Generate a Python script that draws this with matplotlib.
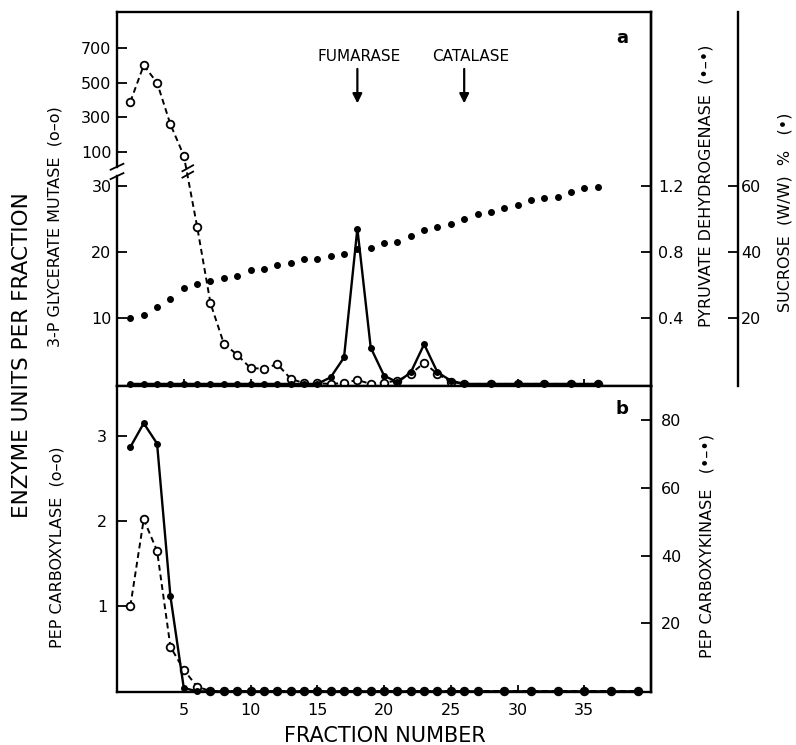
import matplotlib
matplotlib.use("Agg")
import matplotlib.pyplot as plt
import numpy as np

# ---- data ----
frac_top = list(range(1, 27)) + [28, 30, 32, 34, 36]
pgm = [390, 600, 500, 260, 80, 23.8, 12.2, 6.1, 4.4, 2.4, 2.3, 3.0, 0.8, 0.1, 0.1,
       0, 0.15, 0.6, 0, 0.2, 0.5, 1.5, 3.2, 1.5, 0.3, 0, 0, 0, 0, 0, 0]
pdh = [0] * 15 + [0.04, 0.16, 0.94, 0.22, 0.05, 0.01, 0.07, 0.24, 0.07, 0.02,
                  0, 0, 0, 0, 0, 0]
frac_suc = list(range(1, 37))
sucrose = [20.1, 20.8, 23.3, 25.8, 29.0, 30.3, 31.2, 32.2, 32.7, 34.4, 34.7, 36.0,
           36.6, 37.9, 37.9, 38.8, 39.4, 40.9, 41.2, 42.7, 43.0, 44.8, 46.7, 47.6,
           48.5, 50.0, 51.5, 52.1, 53.3, 54.2, 55.8, 56.4, 56.7, 58.2, 59.4, 59.7]

frac_bot = list(range(1, 28)) + [29, 31, 33, 35, 37, 39]
pepc = [1.0, 2.02, 1.65, 0.52, 0.25, 0.05] + [0] * 27
pepck = [72, 79, 73, 28, 1] + [0] * 28

xticks = [5, 10, 15, 20, 25, 30, 35]
pgm_ticks = [10, 20, 30, 100, 300, 500, 700]

# broken left axis of panel a: linear below BREAK, compressed above
BREAK = 31.0
UP_BASE = 32.45
UP_SLOPE = 0.02625


def fwd(v):
    v = np.asarray(v, dtype=float)
    return np.where(v <= BREAK, v, UP_BASE + UP_SLOPE * v)


def inv(u):
    u = np.asarray(u, dtype=float)
    hi = (u - UP_BASE) / UP_SLOPE
    return np.where(u <= BREAK, u, np.where(hi < BREAK, BREAK, hi))


plt.rcParams['font.family'] = ['DejaVu Sans']
fig = plt.figure(figsize=(7.96, 7.45), dpi=100)

L, R = 0.147, 0.818
ax_a = fig.add_axes([L, 0.482, R - L, 0.984 - 0.482])
ax_b = fig.add_axes([L, 0.0711, R - L, 0.482 - 0.0711])

TS = 11.5  # tick label size
open_kw = dict(marker='o', ms=5.5, mfc='white', mec='black', mew=1.3,
               color='black', clip_on=False)
dash = (0, (3, 2))

# ---------- panel a ----------
ax_a.set_yscale('function', functions=(fwd, inv))
ax_a.set_xlim(0, 40)
ax_a.set_ylim(-0.3, 908)
ax_a.plot(frac_top, pgm, ls=dash, lw=1.4, zorder=3, **open_kw)
ax_a.set_yticks(pgm_ticks)
ax_a.set_yticklabels([str(t) for t in pgm_ticks])
ax_a.set_xticks(xticks)
ax_a.tick_params(axis='x', direction='in', length=5, width=1.3, labelbottom=False)
ax_a.tick_params(axis='y', direction='in', length=7, width=1.3, labelsize=TS, pad=4)
ax_a.spines['left'].set_visible(False)
for sp in ['top', 'right', 'bottom']:
    ax_a.spines[sp].set_linewidth(1.7)

# left spine drawn in two pieces with break marks
lo_end, hi_start = 0.561, 0.586
ax_a.plot([0, 0], [0, lo_end], transform=ax_a.transAxes, color='black',
          lw=1.7, clip_on=False)
ax_a.plot([0, 0], [hi_start, 1], transform=ax_a.transAxes, color='black',
          lw=1.7, clip_on=False)
for yb in (lo_end, hi_start):
    ax_a.plot([-0.012, 0.012], [yb - 0.008, yb + 0.008], transform=ax_a.transAxes,
              color='black', lw=1.3, clip_on=False)
# break marks across the dashed curve
bt = ax_a.get_xaxis_transform()
for yb in (lo_end + 0.004, hi_start - 0.004):
    ax_a.plot([4.9, 5.7], [yb - 0.008, yb + 0.008], transform=bt,
              color='black', lw=1.3)

# pyruvate dehydrogenase axis
ax_p = ax_a.twinx()
ax_p.set_ylim(-0.3 / 25, 56.3 / 25)
ax_p.plot(frac_top, pdh, color='black', lw=1.7, marker='o', ms=4,
          clip_on=False, zorder=4)
ax_p.set_yticks([0.4, 0.8, 1.2])
ax_p.set_yticklabels(['0.4', '0.8', '1.2'])
ax_p.tick_params(axis='y', direction='in', length=7, width=1.3, labelsize=TS, pad=5)
for sp in ['left', 'top', 'bottom']:
    ax_p.spines[sp].set_visible(False)
ax_p.spines['right'].set_linewidth(1.7)

# sucrose axis
ax_s = ax_a.twinx()
ax_s.set_ylim(-0.6, 112.6)
ax_s.plot(frac_suc, sucrose, ls='none', marker='o', ms=4, color='black')
ax_s.spines['right'].set_position(('axes', 1.163))
ax_s.spines['right'].set_linewidth(1.7)
for sp in ['left', 'top', 'bottom']:
    ax_s.spines[sp].set_visible(False)
ax_s.set_yticks([20, 40, 60])
ax_s.set_yticklabels(['20', '40', '60'])
ax_s.tick_params(axis='y', direction='in', length=7, width=1.3, labelsize=TS, pad=2)

# marker enzymes
for xm, name, xt in [(18, 'FUMARASE', 18.1), (26, 'CATALASE', 26.5)]:
    ax_a.text(xt, 0.882, name, transform=bt, ha='center', va='center', fontsize=11)
    ax_a.annotate('', xy=(xm, 0.748), xytext=(xm, 0.855), xycoords=bt, textcoords=bt,
                  arrowprops=dict(arrowstyle='-|>', color='black', lw=1.6,
                                  mutation_scale=14))
ax_a.text(0.945, 0.93, 'a', transform=ax_a.transAxes, fontsize=13,
          fontweight='bold', ha='center', va='center')

# ---------- panel b ----------
ax_b.set_xlim(0, 40)
ax_b.set_ylim(-0.012, 3.59)
ax_b.plot(frac_bot, pepc, ls=dash, lw=1.4, zorder=3, **open_kw)
ax_b.set_yticks([1, 2, 3])
ax_b.set_yticklabels(['1', '2', '3'])
ax_b.set_xticks(xticks)
ax_b.set_xticklabels([str(t) for t in xticks])
ax_b.tick_params(axis='x', direction='in', length=5, width=1.3, labelsize=TS, pad=8)
ax_b.tick_params(axis='y', direction='in', length=7, width=1.3, labelsize=TS, pad=7)
for sp in ax_b.spines.values():
    sp.set_linewidth(1.7)

ax_k = ax_b.twinx()
ax_k.set_ylim(-0.2, 90)
ax_k.plot(frac_bot, pepck, color='black', lw=1.7, marker='o', ms=4,
          clip_on=False, zorder=4)
ax_k.set_yticks([20, 40, 60, 80])
ax_k.set_yticklabels(['20', '40', '60', '80'])
ax_k.tick_params(axis='y', direction='in', length=7, width=1.3, labelsize=TS, pad=7)
for sp in ['left', 'top', 'bottom']:
    ax_k.spines[sp].set_visible(False)
ax_k.spines['right'].set_linewidth(1.7)
ax_b.text(0.945, 0.925, 'b', transform=ax_b.transAxes, fontsize=13,
          fontweight='bold', ha='center', va='center')

# ---------- labels ----------
W, H = 796.0, 745.0
LS = 11.5
fig.text(22 / W, 1 - 355 / H, 'ENZYME UNITS PER FRACTION', rotation=90,
         ha='center', va='center', fontsize=15.5)
fig.text(55 / W, 1 - 227 / H, '3-P GLYCERATE MUTASE  (o–o)', rotation=90,
         ha='center', va='center', fontsize=LS)
fig.text(57 / W, 1 - 547 / H, 'PEP CARBOXYLASE  (o–o)', rotation=90,
         ha='center', va='center', fontsize=LS)
fig.text(706 / W, 1 - 186 / H, 'PYRUVATE DEHYDROGENASE  (•–•)', rotation=90,
         ha='center', va='center', fontsize=LS)
fig.text(785 / W, 1 - 212 / H, 'SUCROSE  (W/W)  %   (•)', rotation=90,
         ha='center', va='center', fontsize=LS)
fig.text(707 / W, 1 - 546 / H, 'PEP CARBOXYKINASE   (•–•)', rotation=90,
         ha='center', va='center', fontsize=LS)
fig.text(385 / W, 1 - 736 / H, 'FRACTION NUMBER', ha='center', va='center',
         fontsize=15)

fig.savefig('out.png', dpi=100)
